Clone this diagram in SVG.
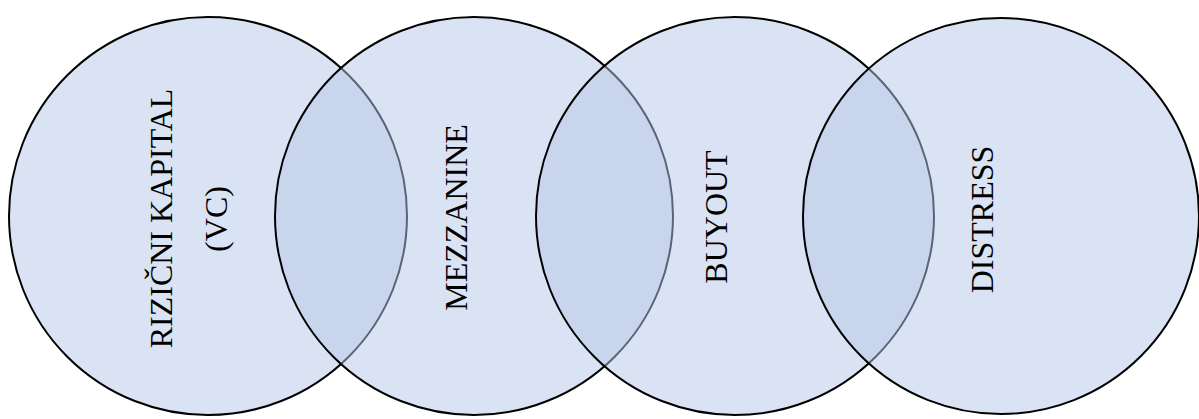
<svg xmlns="http://www.w3.org/2000/svg" width="1199" height="419" viewBox="0 0 1199 419">
<style>
.c{fill:#b5c7e7;fill-opacity:0.5;stroke:#000;stroke-width:2}
.t{font-family:"Liberation Serif","Times New Roman",serif;font-size:32px;fill:#000;text-anchor:middle}
</style>
<rect width="1199" height="419" fill="#fff"/>
<g id="node-vc">
<circle class="c" cx="208" cy="216" r="199"/>
<text class="t" transform="translate(172,218.5) rotate(-90)">RIZIČNI KAPITAL</text>
<text class="t" transform="translate(227,219) rotate(-90)">(VC)</text>
</g>
<g id="node-mezzanine">
<circle class="c" cx="474" cy="216" r="199"/>
<text class="t" transform="translate(467,217.5) rotate(-90)">MEZZANINE</text>
</g>
<g id="node-buyout">
<circle class="c" cx="735" cy="216" r="199"/>
<text class="t" transform="translate(727,217) rotate(-90)">BUYOUT</text>
</g>
<g id="node-distress">
<circle class="c" cx="1001" cy="216" r="198"/>
<text class="t" transform="translate(993,219.5) rotate(-90)">DISTRESS</text>
</g>
<g id="connectors"/>
</svg>
